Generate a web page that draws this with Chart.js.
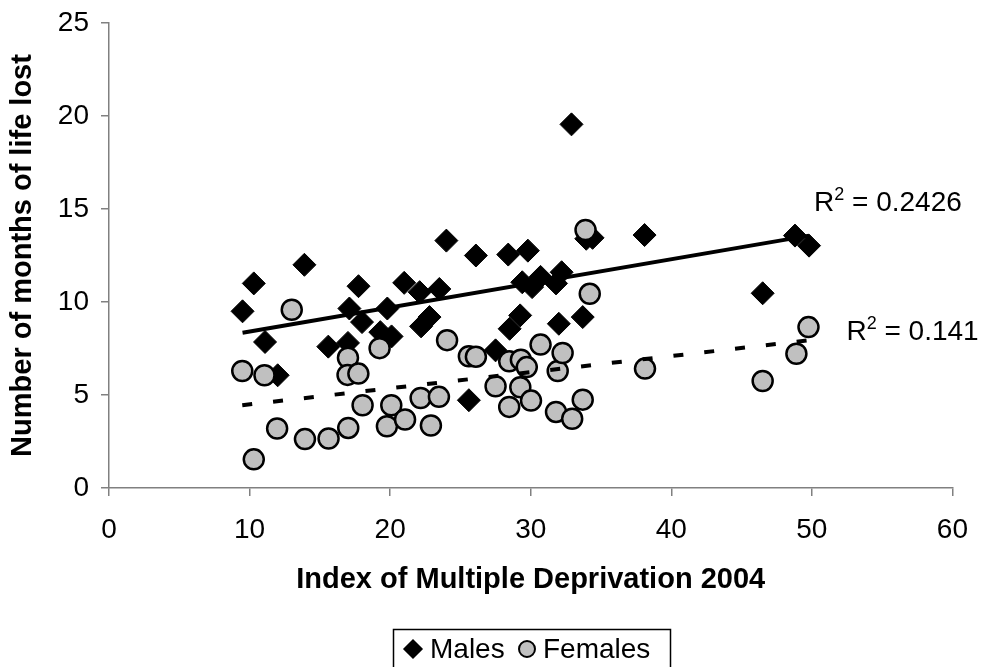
<!DOCTYPE html>
<html>
<head>
<meta charset="utf-8">
<title>Months of life lost by deprivation</title>
<script src="https://cdn.jsdelivr.net/npm/chart.js@4.4.1/dist/chart.umd.min.js"></script>
<style>
  html, body { margin: 0; padding: 0; background: #fff; }
  #wrap { width: 985px; height: 667px; }
</style>
</head>
<body>
<div id="wrap"><canvas id="lifeLostChart" width="985" height="667"></canvas></div>
<script>
// IMD 2004 score and months of life lost, one entry per area
var maleImd = [9.5, 10.3, 11.1, 12.0, 13.9, 15.6, 17.0, 17.1, 17.75, 18.0,
  19.3, 19.8, 20.1, 21.0, 22.1, 22.2, 22.8, 23.5, 24.0, 25.6,
  26.1, 27.5, 28.4, 28.5, 29.25, 29.4, 29.8, 30.1, 30.7, 31.8,
  32.2, 32.0, 32.9, 33.7, 33.95, 34.4, 38.1, 46.5, 48.8, 49.8];
var maleMonths = [9.5, 11.0, 7.85, 6.06, 12.0, 7.6, 7.8, 9.65, 10.85, 8.92,
  8.38, 9.65, 8.15, 11.03, 10.53, 8.69, 9.19, 10.7, 13.3, 4.72,
  12.5, 7.4, 12.55, 8.56, 9.28, 11.06, 12.76, 10.8, 11.35, 11.0,
  11.6, 8.83, 19.55, 9.19, 13.4, 13.45, 13.6, 10.47, 13.57, 13.03];

var femaleImd = [9.48, 10.3, 11.06, 11.96, 13.0, 13.94, 15.62, 17.0, 16.97, 17.02,
  17.74, 18.04, 19.25, 19.77, 20.08, 21.06, 22.17, 22.9, 23.47, 24.05,
  25.6, 26.1, 27.5, 28.47, 28.47, 29.3, 29.26, 29.72, 30.02, 30.7,
  31.8, 31.92, 32.27, 32.95, 33.7, 33.9, 34.2, 38.13, 46.5, 48.9, 49.76];
var femaleMonths = [6.29, 1.54, 6.06, 3.2, 9.58, 2.63, 2.66, 7.0, 6.08, 3.23,
  6.15, 4.45, 7.52, 3.32, 4.45, 3.68, 4.84, 3.36, 4.9, 7.95,
  7.08, 7.06, 5.47, 6.81, 4.36, 6.9, 5.42, 6.5, 4.7, 7.71,
  4.09, 6.29, 7.26, 3.72, 4.75, 13.87, 10.44, 6.42, 5.75, 7.22, 8.65];

// linear trend lines: first and last point of each
var maleTrendImd = [9.5, 49.8];
var maleTrendMonths = [8.35, 13.57];
var femaleTrendImd = [9.48, 49.76];
var femaleTrendMonths = [4.45, 7.94];
var maleR2 = '0.2426';
var femaleR2 = '0.141';

var xTickValues = [0, 10, 20, 30, 40, 50, 60];
var yTickValues = [0, 5, 10, 15, 20, 25];

var FONT = "'Liberation Sans', Arial, sans-serif";

function toPoints(xs, ys) {
  return xs.map(function (x, i) { return { x: x, y: ys[i] }; });
}

function drawR2(ctx, x, y, value) {
  ctx.font = '28px ' + FONT;
  ctx.textBaseline = 'alphabetic';
  ctx.textAlign = 'left';
  ctx.fillText('R', x, y);
  var w = ctx.measureText('R').width;
  ctx.font = '18px ' + FONT;
  ctx.fillText('2', x + w, y - 11);
  w += ctx.measureText('2').width;
  ctx.font = '28px ' + FONT;
  ctx.fillText(' = ' + value, x + w, y);
}

// legend box and R² labels
var extras = {
  id: 'extras',
  afterDraw: function (chart) {
    var ctx = chart.ctx;
    var xs = chart.scales.x, ys = chart.scales.y;
    ctx.save();
    ctx.fillStyle = '#000';

    drawR2(ctx, xs.getPixelForValue(maleTrendImd[1]) + 5,
      ys.getPixelForValue(maleTrendMonths[1]) - 25, maleR2);
    drawR2(ctx, xs.getPixelForValue(femaleTrendImd[1]) + 38,
      ys.getPixelForValue(femaleTrendMonths[1]), femaleR2);

    ctx.strokeStyle = '#000';
    ctx.lineWidth = 1.5;
    ctx.strokeRect(393.5, 629.5, 277, 42);

    var ds = chart.data.datasets;
    ctx.fillStyle = ds[0].backgroundColor;
    ctx.strokeStyle = ds[0].borderColor;
    Chart.helpers.drawPoint(ctx, { pointStyle: 'rectRot', radius: 9, rotation: 0, borderWidth: 1 }, 413, 649);
    ctx.fillStyle = ds[1].backgroundColor;
    ctx.strokeStyle = ds[1].borderColor;
    ctx.lineWidth = 2;
    Chart.helpers.drawPoint(ctx, { pointStyle: 'circle', radius: 8, rotation: 0, borderWidth: 2 }, 527, 649);

    ctx.fillStyle = '#000';
    ctx.font = '28px ' + FONT;
    ctx.textBaseline = 'middle';
    ctx.textAlign = 'left';
    ctx.fillText(ds[0].label, 430, 650);
    ctx.fillText(ds[1].label, 543, 650);
    ctx.restore();
  }
};

new Chart(document.getElementById('lifeLostChart'), {
  type: 'scatter',
  data: {
    datasets: [{
      label: 'Males',
      data: toPoints(maleImd, maleMonths),
      pointStyle: 'rectRot',
      pointRadius: 11.5,
      backgroundColor: '#000000',
      borderColor: '#000000',
      borderWidth: 1,
      order: 3
    }, {
      label: 'Females',
      data: toPoints(femaleImd, femaleMonths),
      pointStyle: 'circle',
      pointRadius: 10,
      backgroundColor: '#C0C0C0',
      borderColor: '#000000',
      borderWidth: 2.5,
      order: 2
    }, {
      label: 'Males trend',
      data: toPoints(maleTrendImd, maleTrendMonths),
      showLine: true,
      pointRadius: 0,
      borderColor: '#000000',
      borderWidth: 4,
      order: 1
    }, {
      label: 'Females trend',
      data: toPoints(femaleTrendImd, femaleTrendMonths),
      showLine: true,
      pointRadius: 0,
      borderColor: '#000000',
      borderWidth: 4,
      borderDash: [10, 21],
      order: 1
    }]
  },
  options: {
    responsive: false,
    animation: false,
    devicePixelRatio: 1,
    layout: { padding: { left: 0, right: 30, top: 23, bottom: 0 } },
    plugins: {
      legend: { display: false },
      tooltip: { enabled: false }
    },
    scales: {
      x: {
        type: 'linear',
        min: 0,
        max: 60,
        afterBuildTicks: function (s) {
          s.ticks = xTickValues.map(function (v) { return { value: v }; });
        },
        afterFit: function (s) { s.height = 667 - 488; },
        border: { color: '#808080', width: 1.5 },
        grid: { drawOnChartArea: false, drawTicks: true, tickLength: 8, color: '#808080', lineWidth: 1.5 },
        ticks: { color: '#000', font: { family: FONT, size: 28 }, padding: 17, maxRotation: 0 },
        title: {
          display: true,
          text: 'Index of Multiple Deprivation 2004',
          color: '#000',
          font: { family: FONT, size: 29, weight: 'bold' },
          padding: { top: 0, bottom: 70 }
        }
      },
      y: {
        type: 'linear',
        min: 0,
        max: 25,
        afterBuildTicks: function (s) {
          s.ticks = yTickValues.map(function (v) { return { value: v }; });
        },
        afterFit: function (s) {
          s.width = 109;
          // keep the plot top fixed; the layout padding already leaves room for "25"
          s.paddingTop = 0;
          s.paddingBottom = 0;
        },
        border: { color: '#808080', width: 1.5 },
        grid: { drawOnChartArea: false, drawTicks: true, tickLength: 8, color: '#808080', lineWidth: 1.5 },
        ticks: { color: '#000', font: { family: FONT, size: 28 }, padding: 12 },
        title: {
          display: true,
          text: 'Number of months of life lost',
          color: '#000',
          font: { family: FONT, size: 29, weight: 'bold' },
          padding: { top: 6, bottom: 0 }
        }
      }
    }
  },
  plugins: [extras]
});
</script>
</body>
</html>
